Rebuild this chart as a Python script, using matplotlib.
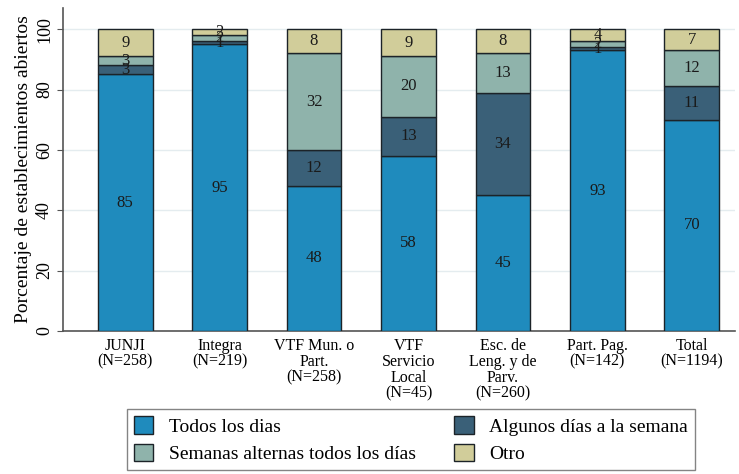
import matplotlib.pyplot as plt
import numpy as np

plt.rcParams['font.family'] = ['Liberation Serif', 'DejaVu Serif']

categorias = ['JUNJI\n(N=258)', 'Integra\n(N=219)', 'VTF Mun. o\nPart.\n(N=258)',
              'VTF\nServicio\nLocal\n(N=45)', 'Esc. de\nLeng. y de\nParv.\n(N=260)',
              'Part. Pag.\n(N=142)', 'Total\n(N=1194)']
todos = [85, 95, 48, 58, 45, 93, 70]
algunos = [3, 1, 12, 13, 34, 1, 11]
semanas = [3, 2, 32, 20, 13, 2, 12]
otro = [9, 2, 8, 9, 8, 4, 7]

series = [todos, algunos, semanas, otro]
nombres = ['Todos los dias', 'Algunos días a la semana',
           'Semanas alternas todos los días', 'Otro']
colores = ['#1f8bbd', '#3a6078', '#8fb3ab', '#d1cd9a']

fig = plt.figure(figsize=(7.39, 4.74), dpi=100)
ax = fig.add_axes([0.085, 0.302, 0.91, 0.681])

x = np.arange(len(categorias))
base = np.zeros(len(categorias))
barras = []
for vals, col, nom in zip(series, colores, nombres):
    vals = np.array(vals, dtype=float)
    b = ax.bar(x, vals, 0.58, bottom=base, color=col, edgecolor='#1c2328',
               linewidth=1.0, label=nom, zorder=3)
    barras.append(b)
    for xi, v, b0 in zip(x, vals, base):
        ax.text(xi, b0 + v / 2, '%d' % v, ha='center', va='center',
                fontsize=12, color='#1a1a1a', zorder=4)
    base = base + vals

ax.set_xlim(-0.66, 6.46)
ax.set_ylim(0, 107)
ax.set_yticks([0, 20, 40, 60, 80, 100])
ax.set_yticklabels(['0', '20', '40', '60', '80', '100'], rotation=90, va='center')
ax.yaxis.grid(True, color='#e4ecef', linewidth=1, zorder=0)
ax.set_axisbelow(True)
ax.set_xticks(x)
ax.set_xticklabels(categorias, fontsize=11.5, linespacing=1.0)
ax.tick_params(axis='x', length=0, pad=5)
ax.tick_params(axis='y', labelsize=13, length=4, color='#555555', pad=3)
ax.set_ylabel('Porcentaje de establecimientos abiertos', fontsize=14, labelpad=3)
for s in ['top', 'right']:
    ax.spines[s].set_visible(False)
for s in ['left', 'bottom']:
    ax.spines[s].set_color('#555555')
    ax.spines[s].set_linewidth(1.2)

# orden por columnas: fila 1 Todos / Algunos, fila 2 Semanas / Otro
handles = [barras[0], barras[2], barras[1], barras[3]]
labels = [nombres[0], nombres[2], nombres[1], nombres[3]]
leg = fig.legend(handles, labels, ncol=2, loc='lower center',
                 bbox_to_anchor=(0.556, -0.012), fontsize=14, frameon=True,
                 fancybox=False, edgecolor='#666666', handlelength=1.0,
                 handleheight=1.0, columnspacing=2.0, borderpad=0.35,
                 labelspacing=0.42, handletextpad=0.8)
leg.get_frame().set_linewidth(1.0)

fig.savefig('out.png', dpi=100)
